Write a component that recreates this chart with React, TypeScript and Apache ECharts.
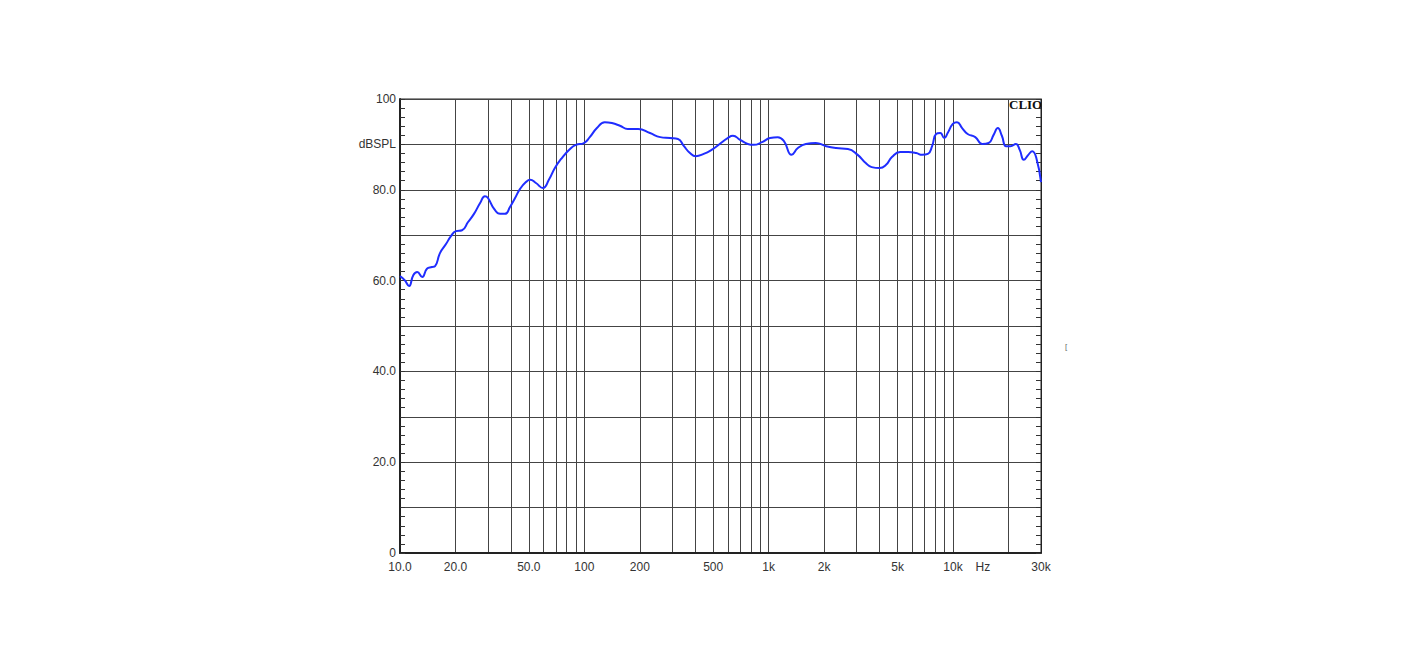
import React, { useEffect, useRef } from 'react';
import * as echarts from 'echarts';

const freqs = [10, 10.6, 11.2, 11.8, 12.4, 13.2, 14.0, 14.9, 15.5, 16.5, 17.8, 18.9, 20.1, 21.7, 23.4, 25.2, 27.2, 28.9, 30, 32.4, 34.9, 37.1, 39.5, 42.1, 44.8, 48.2, 50.8, 54.6, 59.6, 64.2, 69.2, 75.5, 83.6, 90, 99.5, 107, 117, 129, 141, 156, 172, 196, 227, 258, 292, 322, 347, 374, 402, 444, 490, 542, 599, 640, 700, 770, 830, 919, 1017, 1120, 1210, 1330, 1440, 1590, 1800, 2050, 2320, 2690, 3040, 3360, 3620, 4000, 4330, 4660, 5160, 5700, 6310, 6800, 7300, 7700, 8090, 8520, 8960, 9350, 9970, 10500, 11200, 12000, 13200, 14400, 15600, 16600, 17500, 18400, 19400, 20500, 21900, 23000, 24200, 25600, 26900, 28300, 30000];
const spl = [61.0, 60.1, 58.8, 61.2, 61.9, 60.8, 62.6, 63.0, 63.2, 66.1, 68.1, 69.8, 70.9, 71.1, 72.9, 74.7, 77.1, 78.6, 78.2, 75.8, 74.7, 74.7, 76.2, 78.2, 80.2, 81.7, 82.2, 81.5, 80.4, 82.2, 84.8, 87.0, 89.0, 89.9, 90.3, 91.6, 93.6, 94.9, 94.7, 94.1, 93.4, 93.4, 92.5, 91.6, 91.4, 91.2, 89.6, 88.1, 87.4, 87.9, 88.8, 90.1, 91.4, 91.9, 91.0, 90.1, 89.9, 90.5, 91.4, 91.6, 90.7, 87.7, 89.2, 90.1, 90.3, 89.6, 89.2, 89.0, 87.7, 85.9, 85.0, 84.8, 85.5, 87.2, 88.3, 88.3, 88.1, 87.7, 87.9, 89.6, 92.3, 92.5, 91.4, 92.5, 94.5, 94.9, 93.6, 92.3, 91.6, 90.1, 90.3, 92.1, 93.6, 91.9, 89.6, 89.6, 90.1, 88.8, 86.6, 87.7, 88.5, 87.0, 81.7];

const gridFreqs = [10, 20, 30, 40, 50, 60, 70, 80, 90, 100, 200, 300, 400, 500, 600, 700, 800, 900, 1000, 2000, 3000, 4000, 5000, 6000, 7000, 8000, 9000, 10000, 20000, 30000];
const labelFreqs = [10, 20, 50, 100, 200, 500, 1000, 2000, 5000, 10000, 14500, 30000];
const labelTexts = ['10.0', '20.0', '50.0', '100', '200', '500', '1k', '2k', '5k', '10k', 'Hz', '30k'];
const yLabelValues = [0, 10, 20, 30, 40, 50, 60, 70, 80, 90, 100];
const yLabelTexts = ['0', '', '20.0', '', '40.0', '', '60.0', '', '80.0', 'dBSPL', '100'];

export default function App() {
  const ref = useRef<HTMLDivElement>(null);
  useEffect(() => {
    if (!ref.current) return;
    const chart = echarts.init(ref.current, null, { renderer: 'svg' });
    const data = freqs.map((f, i) => [f, spl[i]]);
    const yAxisBase = {
      type: 'value',
      min: 0,
      max: 100,
      interval: 10,
      axisTick: { show: true, inside: true, length: 5, lineStyle: { color: '#333' } },
      minorTick: { show: true, splitNumber: 5, length: 5, lineStyle: { color: '#333' } },
      splitLine: { show: true, lineStyle: { color: '#444', width: 1 } },
    };
    chart.setOption({
      animation: false,
      backgroundColor: '#fff',
      grid: { left: 400, top: 99, width: 641, height: 454, show: true, borderColor: '#222', borderWidth: 1 },
      xAxis: {
        type: 'log',
        logBase: 10,
        min: 10,
        max: 30000,
        axisLine: { show: true, lineStyle: { color: '#222', width: 2 } },
        axisTick: { show: false, customValues: gridFreqs },
        splitLine: { show: true, lineStyle: { color: '#444', width: 1 } },
        axisLabel: {
          customValues: labelFreqs,
          margin: 8,
          color: '#333',
          fontFamily: 'Liberation Sans, Arial, sans-serif',
          fontSize: 12,
          formatter: (v: number) => {
            let best = 0;
            for (let i = 0; i < labelFreqs.length; i++) {
              if (Math.abs(Math.log10(labelFreqs[i]) - Math.log10(v)) < Math.abs(Math.log10(labelFreqs[best]) - Math.log10(v))) best = i;
            }
            return labelTexts[best];
          },
        },
      },
      yAxis: [
        {
          ...yAxisBase,
          position: 'left',
          axisLine: { show: true, lineStyle: { color: '#222', width: 2 } },
          axisLabel: {
            color: '#333',
            fontFamily: 'Liberation Sans, Arial, sans-serif',
            fontSize: 12,
            margin: 4,
            formatter: (v: number) => {
              const i = yLabelValues.indexOf(Math.round(v));
              return i >= 0 ? yLabelTexts[i] : '';
            },
          },
        },
        {
          ...yAxisBase,
          position: 'right',
          splitLine: { show: false },
          axisLine: { show: true, lineStyle: { color: '#222', width: 1 } },
          axisLabel: { show: false },
        },
      ],
      graphic: [
        { type: 'text', left: 1009, top: 98, style: { text: 'CLIO', font: 'bold 13px "Liberation Serif", "DejaVu Serif", serif', fill: '#111' } },
        { type: 'text', left: 1065, top: 342, style: { text: '[', font: '8px "Liberation Sans", sans-serif', fill: '#666' } },
      ],
      series: [
        {
          type: 'line',
          data,
          showSymbol: false,
          smooth: 0.5,
          lineStyle: { color: '#1f2dff', width: 2 },
          xAxisIndex: 0,
          yAxisIndex: 0,
        },
      ],
    });
    return () => chart.dispose();
  }, []);
  return <div ref={ref} style={{ position: 'absolute', left: 0, top: 0, width: 1416, height: 672 }} />;
}
